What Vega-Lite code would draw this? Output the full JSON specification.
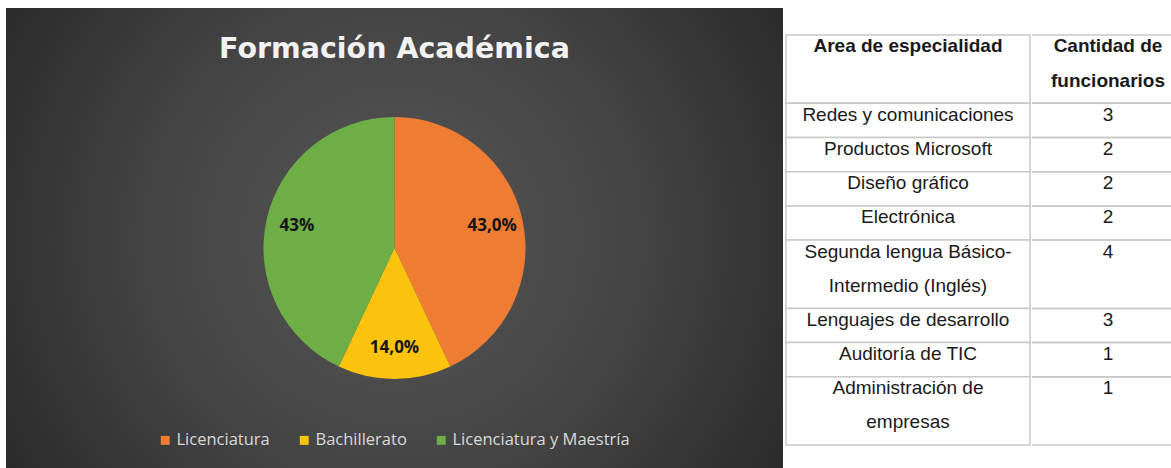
{
  "$schema": "https://vega.github.io/schema/vega-lite/v6.json",
  "background": "white",
  "padding": {"left": 6, "top": 8, "right": 0, "bottom": 0},
  "spacing": 2,
  "config": {"view": {"stroke": null}},
  "datasets": {
    "formacion": [
      {"formacion": "Licenciatura", "porcentaje": 43, "etiqueta": "43,0%", "orden": 1},
      {"formacion": "Bachillerato", "porcentaje": 14, "etiqueta": "14,0%", "orden": 2},
      {"formacion": "Licenciatura y Maestría", "porcentaje": 43, "etiqueta": "43%", "orden": 3}
    ],
    "filas": [
      {"area": "Encabezado", "cantidad": null, "inicio": 0, "fin": 2},
      {"area": "Redes y comunicaciones", "cantidad": 3, "inicio": 2, "fin": 3},
      {"area": "Productos Microsoft", "cantidad": 2, "inicio": 3, "fin": 4},
      {"area": "Diseño gráfico", "cantidad": 2, "inicio": 4, "fin": 5},
      {"area": "Electrónica", "cantidad": 2, "inicio": 5, "fin": 6},
      {"area": "Segunda lengua Básico-Intermedio (Inglés)", "cantidad": 4, "inicio": 6, "fin": 8},
      {"area": "Lenguajes de desarrollo", "cantidad": 3, "inicio": 8, "fin": 9},
      {"area": "Auditoría de TIC", "cantidad": 1, "inicio": 9, "fin": 10},
      {"area": "Administración de empresas", "cantidad": 1, "inicio": 10, "fin": 12}
    ],
    "col1": [
      {"linea": 0, "texto": "Area de especialidad", "encabezado": true},
      {"linea": 2, "texto": "Redes y comunicaciones", "encabezado": false},
      {"linea": 3, "texto": "Productos Microsoft", "encabezado": false},
      {"linea": 4, "texto": "Diseño gráfico", "encabezado": false},
      {"linea": 5, "texto": "Electrónica", "encabezado": false},
      {"linea": 6, "texto": "Segunda lengua Básico-", "encabezado": false},
      {"linea": 7, "texto": "Intermedio (Inglés)", "encabezado": false},
      {"linea": 8, "texto": "Lenguajes de desarrollo", "encabezado": false},
      {"linea": 9, "texto": "Auditoría de TIC", "encabezado": false},
      {"linea": 10, "texto": "Administración de", "encabezado": false},
      {"linea": 11, "texto": "empresas", "encabezado": false}
    ],
    "col2": [
      {"linea": 0, "texto": "Cantidad de", "encabezado": true},
      {"linea": 1, "texto": "funcionarios", "encabezado": true},
      {"linea": 2, "texto": "3", "encabezado": false},
      {"linea": 3, "texto": "2", "encabezado": false},
      {"linea": 4, "texto": "2", "encabezado": false},
      {"linea": 5, "texto": "2", "encabezado": false},
      {"linea": 6, "texto": "4", "encabezado": false},
      {"linea": 8, "texto": "3", "encabezado": false},
      {"linea": 9, "texto": "1", "encabezado": false},
      {"linea": 10, "texto": "1", "encabezado": false}
    ]
  },
  "hconcat": [
    {
      "width": 777,
      "height": 460,
      "title": {
        "text": "Formación Académica",
        "anchor": "middle",
        "offset": -78,
        "font": "DejaVu Sans",
        "fontSize": 28.5,
        "fontWeight": "bold",
        "color": "#f2f2f2",
        "baseline": "alphabetic"
      },
      "layer": [
        {
          "data": {"values": [{}]},
          "mark": {
            "type": "rect",
            "fill": {
              "gradient": "radial",
              "x1": 0.5, "y1": 0.5, "r1": 0,
              "x2": 0.5, "y2": 0.5, "r2": 0.62,
              "stops": [
                {"offset": 0, "color": "#575757"},
                {"offset": 0.5, "color": "#444444"},
                {"offset": 1, "color": "#272727"}
              ]
            }
          },
          "encoding": {}
        },
        {
          "data": {"name": "formacion"},
          "mark": {"type": "arc", "radius": 131, "yOffset": 10},
          "encoding": {
            "theta": {"field": "porcentaje", "type": "quantitative", "stack": true},
            "order": {"field": "orden", "type": "quantitative"},
            "color": {
              "field": "formacion",
              "type": "nominal",
              "scale": {
                "domain": ["Licenciatura", "Bachillerato", "Licenciatura y Maestría"],
                "range": ["#ee7c33", "#fcc30e", "#6eae47"]
              },
              "legend": {
                "orient": "none",
                "legendX": 151,
                "legendY": 424,
                "direction": "horizontal",
                "title": null,
                "symbolType": "square",
                "symbolSize": 80,
                "symbolStrokeWidth": 0,
                "labelColor": "#d9d9d9",
                "labelFont": "Open Sans",
                "labelFontSize": 16.5,
                "labelOffset": 3,
                "labelLimit": 400,
                "columnPadding": 26
              }
            }
          }
        },
        {
          "data": {"name": "formacion"},
          "mark": {
            "type": "text",
            "radius": 100,
            "yOffset": 10,
            "font": "Open Sans",
            "fontWeight": "bold",
            "fontSize": 17,
            "fill": "#151515"
          },
          "encoding": {
            "theta": {"field": "porcentaje", "type": "quantitative", "stack": true},
            "order": {"field": "orden", "type": "quantitative"},
            "text": {"field": "etiqueta"}
          }
        }
      ]
    },
    {
      "spacing": 0,
      "hconcat": [
        {
          "width": 244,
          "height": 460,
          "layer": [
            {
              "data": {"name": "filas"},
              "mark": {"type": "rect", "fill": "white", "stroke": "#c8c8c8", "strokeWidth": 1.5},
              "encoding": {
                "y": {
                  "field": "inicio",
                  "type": "quantitative",
                  "scale": {"domain": [-0.79, 12.67], "reverse": true, "nice": false, "zero": false},
                  "axis": null
                },
                "y2": {"field": "fin"}
              }
            },
            {
              "data": {"name": "col1"},
              "transform": [{"filter": "datum.encabezado"}],
              "mark": {
                "type": "text",
                "font": "Liberation Sans",
                "fontSize": 19,
                "fontWeight": "bold",
                "baseline": "alphabetic",
                "dy": 17.5,
                "fill": "#1a1a1a"
              },
              "encoding": {
                "y": {"field": "linea", "type": "quantitative"},
                "text": {"field": "texto"}
              }
            },
            {
              "data": {"name": "col1"},
              "transform": [{"filter": "!datum.encabezado"}],
              "mark": {
                "type": "text",
                "font": "Liberation Sans",
                "fontSize": 19,
                "baseline": "alphabetic",
                "dy": 17.5,
                "fill": "#1a1a1a"
              },
              "encoding": {
                "y": {"field": "linea", "type": "quantitative"},
                "text": {"field": "texto"}
              }
            }
          ]
        },
        {
          "width": 142,
          "height": 460,
          "layer": [
            {
              "data": {"name": "filas"},
              "mark": {"type": "rule", "stroke": "#c8c8c8", "strokeWidth": 1.5},
              "encoding": {
                "y": {
                  "field": "inicio",
                  "type": "quantitative",
                  "scale": {"domain": [-0.79, 12.67], "reverse": true, "nice": false, "zero": false},
                  "axis": null
                }
              }
            },
            {
              "data": {"name": "filas"},
              "mark": {"type": "rule", "stroke": "#c8c8c8", "strokeWidth": 1.5},
              "encoding": {
                "y": {"field": "fin", "type": "quantitative"}
              }
            },
            {
              "data": {"name": "col2"},
              "transform": [{"filter": "datum.encabezado"}],
              "mark": {
                "type": "text",
                "font": "Liberation Sans",
                "fontSize": 19,
                "fontWeight": "bold",
                "baseline": "alphabetic",
                "dy": 17.5,
                "dx": 5,
                "fill": "#1a1a1a"
              },
              "encoding": {
                "y": {"field": "linea", "type": "quantitative"},
                "text": {"field": "texto"}
              }
            },
            {
              "data": {"name": "col2"},
              "transform": [{"filter": "!datum.encabezado"}],
              "mark": {
                "type": "text",
                "font": "Liberation Sans",
                "fontSize": 19,
                "baseline": "alphabetic",
                "dy": 17.5,
                "dx": 5,
                "fill": "#1a1a1a"
              },
              "encoding": {
                "y": {"field": "linea", "type": "quantitative"},
                "text": {"field": "texto"}
              }
            }
          ]
        }
      ]
    }
  ]
}
